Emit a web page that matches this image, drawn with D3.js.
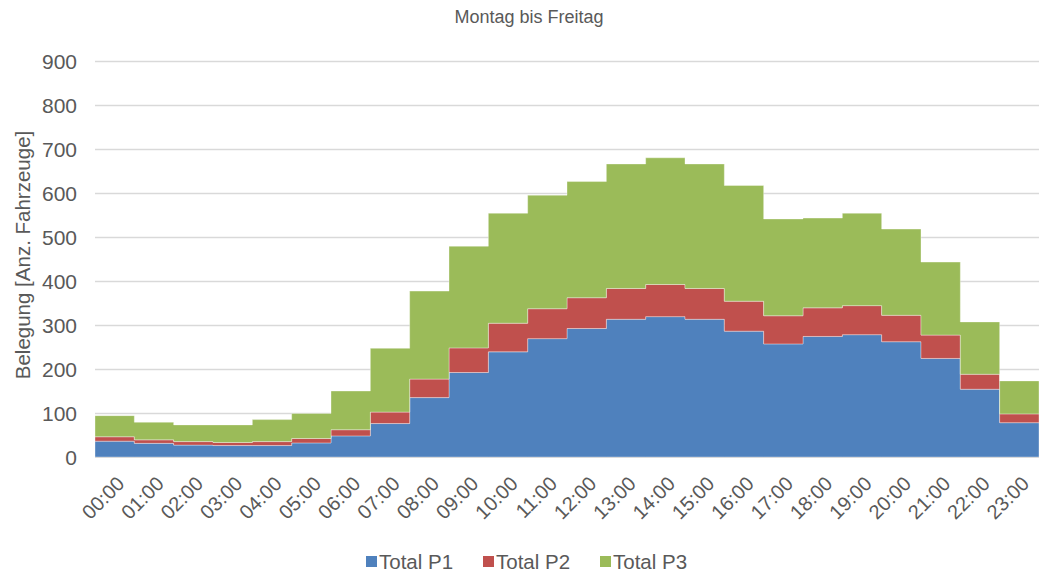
<!DOCTYPE html>
<html>
<head>
<meta charset="utf-8">
<script src="https://cdn.jsdelivr.net/npm/d3@7"></script>
<style>
  body { margin: 0; background: #fff; }
  text { font-family: "Liberation Sans", Arial, sans-serif; fill: #595959; }
</style>
</head>
<body>
<div id="chart"></div>
<script>
const hours = ["00:00","01:00","02:00","03:00","04:00","05:00","06:00","07:00","08:00","09:00","10:00","11:00",
               "12:00","13:00","14:00","15:00","16:00","17:00","18:00","19:00","20:00","21:00","22:00","23:00"];
const totalP1 = [36,31,27,26,26,32,48,76,135,192,239,269,292,313,319,313,286,257,274,278,262,224,154,78];
const totalP2 = [10,8,8,7,9,10,14,26,42,56,65,68,70,70,73,70,68,64,65,66,60,53,34,20];
const totalP3 = [48,40,38,40,50,57,88,145,200,231,250,258,264,283,288,283,263,220,204,210,196,166,119,75];
const seriesNames = ["Total P1", "Total P2", "Total P3"];
const yTicks = [0,100,200,300,400,500,600,700,800,900];

const colors = ["#4f81bd", "#c0504d", "#9bbb59"];
const width = 1040, height = 574;
const margin = { left: 95, right: 1, top: 61, bottom: 117 };

const svg = d3.select("#chart").append("svg")
  .attr("width", width)
  .attr("height", height);

const x = d3.scaleLinear().domain([0, hours.length]).range([margin.left, width - margin.right]);
const y = d3.scaleLinear().domain([0, 900]).range([height - margin.bottom, margin.top]);

// rows, with one extra row at the end so the last step gets its width
const rows = hours.map((h, i) => ({ i: i, "Total P1": totalP1[i], "Total P2": totalP2[i], "Total P3": totalP3[i] }));
rows.push(Object.assign({}, rows[rows.length - 1], { i: hours.length }));

const stacked = d3.stack().keys(seriesNames)(rows);

// grid
svg.append("g")
  .selectAll("line")
  .data(yTicks.filter(d => d > 0))
  .enter()
  .append("line")
  .attr("x1", x(0))
  .attr("x2", x(hours.length))
  .attr("y1", d => y(d) + 0.5)
  .attr("y2", d => y(d) + 0.5)
  .style("stroke", "#d9d9d9")
  .style("stroke-width", 1.5);

const area = d3.area()
  .curve(d3.curveStepAfter)
  .x(d => x(d.data.i))
  .y0(d => y(d[0]))
  .y1(d => y(d[1]));

svg.append("g")
  .selectAll("path")
  .data(stacked)
  .enter()
  .append("path")
  .attr("d", area)
  .attr("fill", (d, i) => colors[i])
  .style("stroke", "rgba(255,255,255,0.35)")
  .style("stroke-width", 1);

// x axis line
svg.append("line")
  .attr("x1", x(0))
  .attr("x2", x(hours.length))
  .attr("y1", y(0) + 0.5)
  .attr("y2", y(0) + 0.5)
  .style("stroke", "#d9d9d9")
  .style("stroke-width", 1);

// y tick labels
svg.append("g")
  .selectAll("text")
  .data(yTicks)
  .enter()
  .append("text")
  .attr("x", 77)
  .attr("y", d => y(d))
  .attr("dy", "0.36em")
  .attr("text-anchor", "end")
  .attr("font-size", "21px")
  .text(d => d);

// x tick labels
svg.append("g")
  .selectAll("text")
  .data(hours)
  .enter()
  .append("text")
  .attr("text-anchor", "end")
  .attr("font-size", "20px")
  .attr("transform", (d, i) => `translate(${x(i + 0.5) + 11},${y(0) + 28}) rotate(-45)`)
  .text(d => d);

// title
svg.append("text")
  .attr("x", 529)
  .attr("y", 23)
  .attr("text-anchor", "middle")
  .attr("font-size", "18px")
  .text("Montag bis Freitag");

// y axis title
svg.append("text")
  .attr("transform", "translate(30,255) rotate(-90)")
  .attr("text-anchor", "middle")
  .attr("font-size", "20.5px")
  .text("Belegung [Anz. Fahrzeuge]");

// legend
const legendX = [366, 483, 600];
const legend = svg.append("g")
  .selectAll("g")
  .data(seriesNames)
  .enter()
  .append("g")
  .attr("transform", (d, i) => `translate(${legendX[i]},562)`);

legend.append("rect")
  .attr("x", 0)
  .attr("y", -6)
  .attr("width", 11)
  .attr("height", 11)
  .attr("fill", (d, i) => colors[i]);

legend.append("text")
  .attr("x", 13)
  .attr("y", 0)
  .attr("dy", "0.36em")
  .attr("font-size", "20.5px")
  .text(d => d);
</script>
</body>
</html>
